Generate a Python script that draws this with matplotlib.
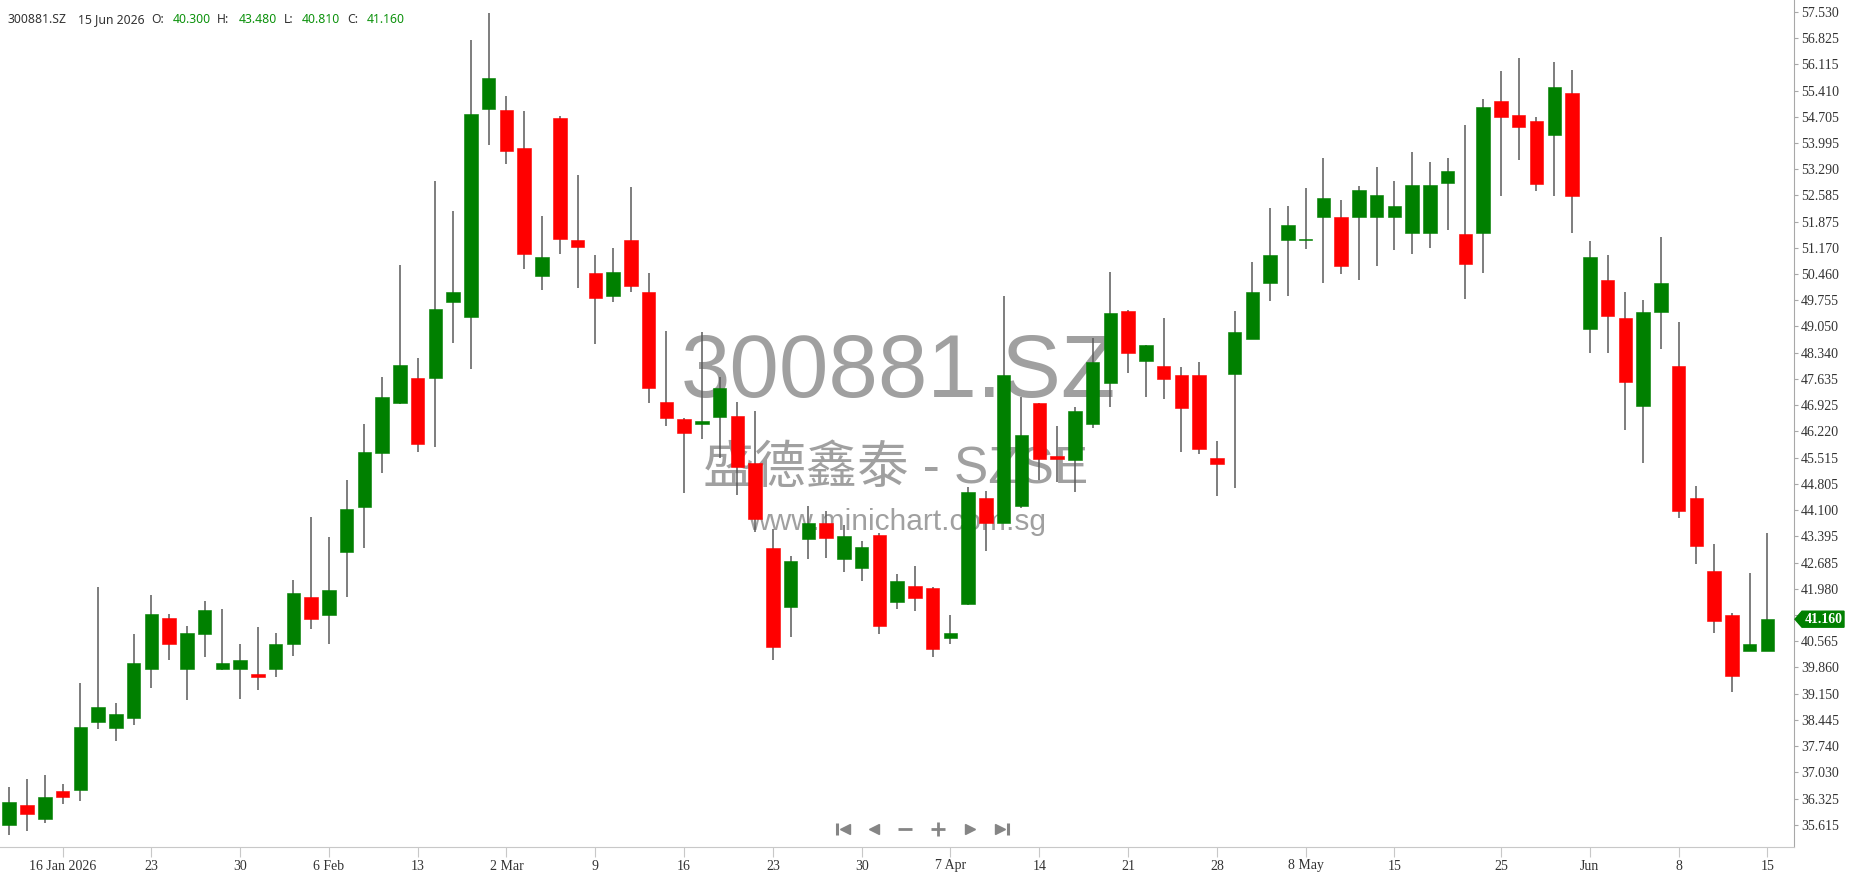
import numpy as np
import matplotlib
matplotlib.use("Agg")
import matplotlib.pyplot as plt
import matplotlib.transforms as mtransforms
from matplotlib.patches import Polygon
from matplotlib.lines import Line2D

plt.rcParams['font.family'] = ['Liberation Serif', 'DejaVu Serif']

# daily candles, 13 Jan 2026 .. 15 Jun 2026 (100 sessions)
opens = [35.60, 36.14, 35.77, 36.54, 36.55, 38.39, 38.23, 38.50, 39.81, 41.19,
         39.81, 40.76, 39.81, 39.81, 39.67, 39.81, 40.49, 41.76, 41.26, 42.97,
         44.19, 45.63, 46.98, 47.65, 47.65, 49.71, 49.31, 54.91, 54.89, 53.85,
         50.41, 54.66, 51.39, 50.49, 49.86, 51.39, 49.97, 47.01, 46.55, 46.42,
         46.62, 46.64, 45.36, 43.07, 41.50, 43.32, 43.74, 42.78, 42.55, 43.43,
         41.63, 42.06, 41.99, 40.66, 41.57, 44.42, 43.76, 44.20, 46.98, 45.56,
         45.44, 46.42, 47.52, 49.46, 48.13, 47.99, 47.74, 47.74, 45.50, 47.76,
         48.71, 50.22, 51.37, 51.37, 52.00, 51.99, 52.00, 52.00, 52.00, 51.56,
         51.56, 52.91, 51.55, 51.56, 55.13, 54.75, 54.58, 54.22, 55.33, 48.98,
         50.31, 49.27, 46.92, 49.43, 47.99, 44.42, 42.46, 41.26, 40.29, 40.30]
highs = [36.64, 36.85, 36.95, 36.71, 39.43, 42.03, 38.90, 40.75, 41.80, 41.29,
         40.98, 41.65, 41.43, 40.48, 40.95, 40.78, 42.23, 43.91, 43.37, 44.92,
         46.42, 47.68, 50.71, 48.19, 52.97, 52.17, 56.77, 57.49, 55.26, 54.86,
         52.02, 54.72, 53.14, 50.98, 51.16, 52.80, 50.48, 48.93, 46.58, 48.89,
         47.70, 47.02, 46.77, 43.59, 42.87, 44.21, 44.08, 43.70, 43.27, 43.48,
         42.37, 42.60, 42.02, 41.26, 44.72, 44.62, 49.87, 47.16, 47.00, 46.37,
         46.89, 48.73, 50.51, 49.50, 48.55, 49.27, 47.95, 48.08, 45.97, 49.47,
         50.78, 52.24, 52.30, 52.78, 53.58, 52.46, 52.83, 53.34, 52.97, 53.75,
         53.48, 53.58, 54.48, 55.18, 55.94, 56.28, 54.69, 56.17, 55.97, 51.36,
         50.98, 49.97, 49.77, 51.46, 49.16, 44.75, 43.18, 41.32, 42.40, 43.48]
lows = [35.33, 35.44, 35.66, 36.17, 36.27, 38.19, 37.89, 38.32, 39.30, 40.05,
        38.97, 40.14, 39.78, 39.00, 39.24, 39.61, 40.18, 40.89, 40.49, 41.77,
        43.08, 45.09, 46.95, 45.67, 45.81, 48.60, 47.90, 53.93, 53.42, 50.59,
        50.02, 51.00, 50.09, 48.57, 49.71, 49.98, 46.98, 46.38, 44.57, 46.01,
        45.50, 44.51, 43.50, 40.06, 40.69, 42.78, 42.80, 42.44, 42.20, 40.76,
        41.43, 41.37, 40.15, 40.49, 41.55, 43.01, 43.75, 44.17, 44.91, 44.87,
        44.60, 46.31, 46.89, 47.79, 47.16, 47.09, 45.68, 45.62, 44.49, 44.69,
        48.70, 49.75, 49.88, 51.13, 50.22, 50.46, 50.29, 50.69, 51.10, 51.00,
        51.16, 51.64, 49.78, 50.49, 52.57, 53.55, 52.70, 52.57, 51.56, 48.33,
        48.33, 46.26, 45.36, 48.44, 43.88, 42.64, 40.80, 39.21, 40.29, 40.30]
closes = [36.24, 35.90, 36.37, 36.38, 38.26, 38.80, 38.60, 39.97, 41.29, 40.49,
          40.78, 41.42, 39.97, 40.07, 39.61, 40.48, 41.86, 41.16, 41.96, 44.12,
          45.66, 47.14, 48.01, 45.88, 49.53, 49.97, 54.79, 55.76, 53.78, 51.00,
          50.92, 51.40, 51.19, 49.81, 50.51, 50.13, 47.39, 46.59, 46.19, 46.50,
          47.39, 45.27, 43.85, 40.42, 42.73, 43.74, 43.34, 43.41, 43.10, 40.99,
          42.19, 41.73, 40.35, 40.78, 44.58, 43.76, 47.75, 46.13, 45.48, 45.48,
          46.77, 48.09, 49.40, 48.33, 48.55, 47.63, 46.86, 45.74, 45.34, 48.89,
          49.97, 50.98, 51.79, 51.40, 52.52, 50.68, 52.73, 52.60, 52.29, 52.87,
          52.87, 53.23, 50.73, 54.96, 54.69, 54.43, 52.88, 55.50, 52.57, 50.92,
          49.34, 47.56, 49.43, 50.21, 44.09, 43.14, 41.12, 39.64, 40.48, 41.16]

# x axis labels sit on these session numbers
tick_pos = [3, 8, 13, 18, 23, 28, 33, 38, 43, 48, 53, 58, 63, 68, 73, 78, 84, 89, 94, 99]
tick_labels = ["16 Jan 2026", "23", "30", "6 Feb", "13", "2 Mar", "9", "16", "23", "30",
               "7 Apr", "14", "21", "28", "8 May", "15", "25", "Jun", "8", "15"]

price_labels = ["35.615", "36.325", "37.030", "37.740", "38.445", "39.150", "39.860",
                "40.565", "41.270", "41.980", "42.685", "43.395", "44.100", "44.805",
                "45.515", "46.220", "46.925", "47.635", "48.340", "49.050", "49.755",
                "50.460", "51.170", "51.875", "52.585", "53.290", "53.995", "54.705",
                "55.410", "56.115", "56.825", "57.530"]
hidden_label = "41.270"   # sits under the last-price tag

up_col = "#008000"
down_col = "#ff0000"

W, H = 1850, 874
fig = plt.figure(figsize=(W / 100, H / 100), dpi=100)
ax = fig.add_axes([0, 27 / H, 1794 / W, 847 / H])

x = np.arange(len(opens))
o = np.array(opens)
c = np.array(closes)
cols = [up_col if cc >= oo else down_col for oo, cc in zip(o, c)]
body_lo = np.minimum(o, c)
body_h = np.maximum(np.abs(c - o), 0.05)

ax.vlines(x, lows, highs, color="#5a5a5a", lw=1.1, zorder=2)
ax.bar(x, body_h, bottom=body_lo, width=0.76, color=cols, edgecolor=cols,
       linewidth=0.4, zorder=3)

ax.set_xlim(-0.52, 100.5)
ax.set_ylim(35.02, 57.85)

# watermark
ax.text(0.5006, 0.531, "300881.SZ", transform=ax.transAxes, ha="center", va="baseline",
        fontsize=64, color="#a0a0a0", family=["Liberation Sans", "DejaVu Sans"], zorder=1)
ax.text(0.4995, 0.430, "盛德鑫泰 - SZSE", transform=ax.transAxes, ha="center", va="baseline",
        fontsize=37, color="#a0a0a0", family=["Liberation Sans", "Noto Sans CJK SC"], zorder=1)
ax.text(0.5, 0.374, "www.minichart.com.sg", transform=ax.transAxes, ha="center", va="baseline",
        fontsize=21.5, color="#a0a0a0", family=["Liberation Sans", "DejaVu Sans"], zorder=1)

# axes look
for s in ["top", "left"]:
    ax.spines[s].set_visible(False)
ax.spines["bottom"].set_color("#c8c8c8")
ax.spines["right"].set_color("#a8a8a8")
ax.yaxis.tick_right()
ax.set_yticks([float(p) for p in price_labels],
              ["" if p == hidden_label else p for p in price_labels])
ax.set_xticks(tick_pos, tick_labels)
ax.tick_params(axis="y", direction="out", length=3, width=0.8, color="#a8a8a8",
               labelcolor="#333333", labelsize=10, pad=2)
ax.tick_params(axis="x", direction="out", length=7, width=0.8, color="#c8c8c8",
               labelcolor="#333333", labelsize=10, pad=2)

# last price tag
tag_tr = mtransforms.Affine2D() + mtransforms.ScaledTranslation(1, closes[-1], ax.get_yaxis_transform())
tag = Polygon([(1, 0), (8, -8), (50, -8), (50, 8), (8, 8)], closed=True,
              facecolor=up_col, edgecolor=up_col, transform=tag_tr, clip_on=False, zorder=10)
ax.add_patch(tag)
ax.annotate(f"{closes[-1]:.3f}", xy=(1, closes[-1]), xycoords=ax.get_yaxis_transform(),
            xytext=(21.5, 0), textcoords="offset points", ha="center", va="center",
            color="white", fontsize=10, fontweight="bold", zorder=11, annotation_clip=False)

# header line
dark = "#333333"
hdr_green = "#0d920d"
header = [("300881.SZ", 7, dark), ("15 Jun 2026", 78, dark), ("O:", 151, dark),
          ("40.300", 173, hdr_green), ("H:", 217, dark), ("43.480", 239, hdr_green),
          ("L:", 284, dark), ("40.810", 302, hdr_green), ("C:", 347, dark),
          ("41.160", 367, hdr_green)]
for txt, px, col in header:
    fig.text(px / W, 1 - 23 / H, txt, ha="left", va="baseline", fontsize=8.8,
             color=col, family=["Noto Sans", "DejaVu Sans"])

# navigation buttons
nav_y = 1 - 829 / H
nav_col = "#858585"
def nav(px, marker, ms, mew=1.0):
    fig.add_artist(Line2D([px / W], [nav_y], marker=marker, ms=ms, mew=mew, color=nav_col,
                          mec=nav_col, mfc=nav_col, linestyle="none", transform=fig.transFigure))
nav(837, "|", 9, 2.2)
nav(845, "<", 7)
nav(874, "<", 7)
nav(905, "_", 10, 2.0)
nav(937.5, "+", 10, 2.0)
nav(970, ">", 7)
nav(1000, ">", 7)
nav(1008, "|", 9, 2.2)

fig.savefig("out.png", dpi=100)
